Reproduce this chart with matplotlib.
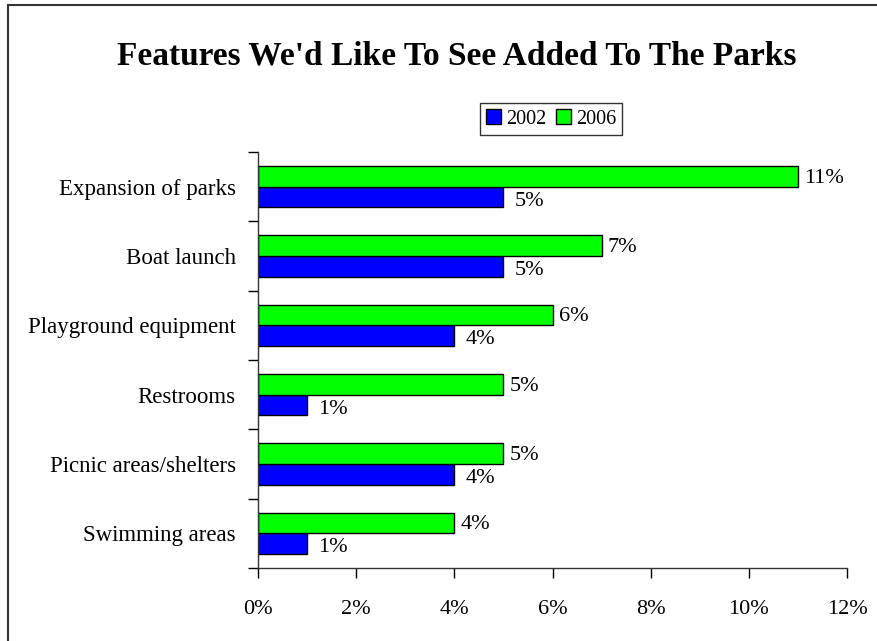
"""Horizontal bar chart: park features residents would like added, 2002 vs 2006."""

import matplotlib.pyplot as plt
from matplotlib.patches import Rectangle
from matplotlib.ticker import FuncFormatter
import numpy as np

plt.rcParams["font.family"] = ["Liberation Serif", "DejaVu Serif"]

# Categories listed top to bottom
features = [
    "Expansion of parks",
    "Boat launch",
    "Playground equipment",
    "Restrooms",
    "Picnic areas/shelters",
    "Swimming areas",
]
pct_2002 = [5, 5, 4, 1, 4, 1]
pct_2006 = [11, 7, 6, 5, 5, 4]

fig = plt.figure(figsize=(8.78, 6.41), dpi=100)
ax = fig.add_axes([258 / 878, 73 / 641, 589 / 878, 416 / 641])

n = len(features)
y = np.arange(n)[::-1]  # first category at the top
h = 0.3

bars_02 = ax.barh(y - h / 2, pct_2002, height=h, color="#0000ff",
                  edgecolor="black", linewidth=1.0, label="2002")
bars_06 = ax.barh(y + h / 2, pct_2006, height=h, color="#00ff00",
                  edgecolor="black", linewidth=1.0, label="2006")

for bar, v in zip(bars_02, pct_2002):
    ax.annotate(f"{v}%", (bar.get_width(), bar.get_y() + bar.get_height() / 2),
                xytext=(11, -4), textcoords="offset pixels",
                va="center", ha="left", fontsize=16)
for bar, v in zip(bars_06, pct_2006):
    ax.annotate(f"{v}%", (bar.get_width(), bar.get_y() + bar.get_height() / 2),
                xytext=(6, -2), textcoords="offset pixels",
                va="center", ha="left", fontsize=16)

ax.set_xlim(0, 12)
ax.set_xticks(np.arange(0, 13, 2))
ax.xaxis.set_major_formatter(FuncFormatter(lambda v, _: f"{v:.0f}%"))
ax.set_ylim(-0.5, n - 0.5)

# category labels centred on groups, tick marks between groups
ax.set_yticks(y)
ax.set_yticklabels(features)
ax.set_yticks(np.arange(-0.5, n, 1.0), minor=True)
ax.tick_params(axis="y", which="major", length=0, pad=16, labelsize=16.5)
ax.tick_params(axis="y", which="minor", length=7, width=1, direction="out")
ax.tick_params(axis="x", length=7, width=1, direction="out", pad=16, labelsize=16)

for side in ("top", "right"):
    ax.spines[side].set_visible(False)
for side in ("left", "bottom"):
    ax.spines[side].set_linewidth(1.0)
    ax.spines[side].set_color("#333333")

handles, labels = ax.get_legend_handles_labels()
leg = fig.legend(handles, labels, loc="center",
                 bbox_to_anchor=(551 / 878, 1 - 119 / 641), ncol=2,
                 frameon=True, fancybox=False, edgecolor="black",
                 fontsize=14.5, handlelength=0.75, handleheight=0.75,
                 handletextpad=0.25, columnspacing=0.5, borderpad=0.3)
leg.get_frame().set_linewidth(1.0)

fig.text(456.5 / 878, 1 - 56 / 641, "Features We'd Like To See Added To The Parks",
         ha="center", va="center", fontsize=24, fontweight="bold")

# chart border running off the right and bottom edges
fig.patches.append(Rectangle((8 / 878, -0.05), 1.0, 1 - 5 / 641 + 0.05,
                             transform=fig.transFigure, fill=False,
                             edgecolor="#333333", linewidth=1.5))

fig.savefig("out.png", dpi=100)
